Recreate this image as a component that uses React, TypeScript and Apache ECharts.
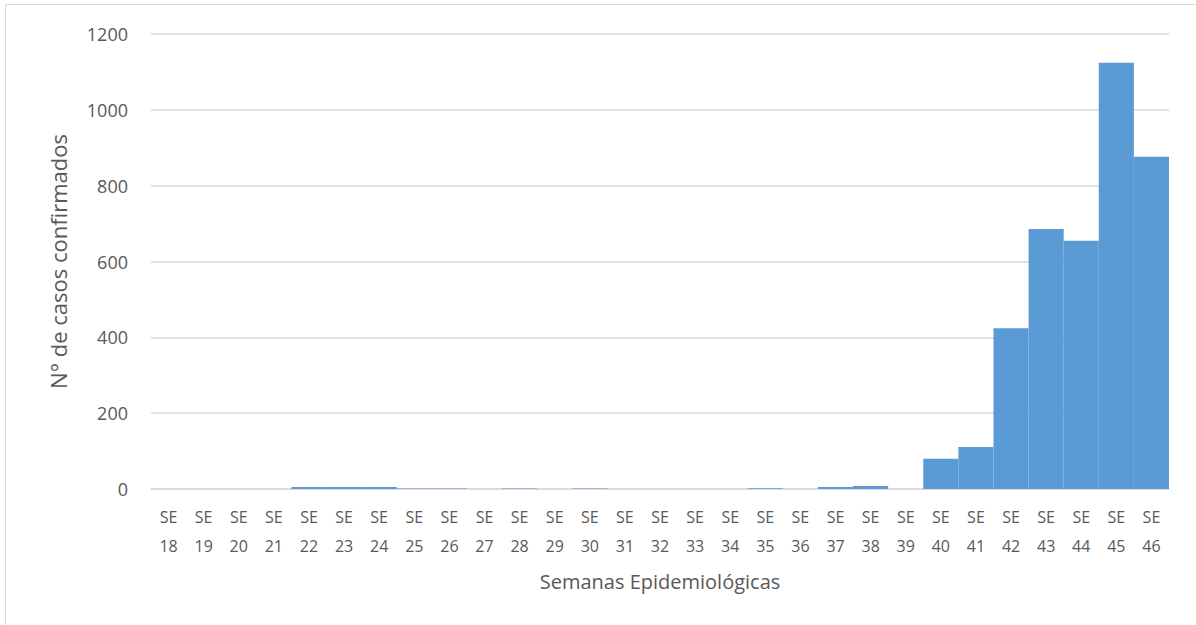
import React, { useEffect, useRef } from "react";
import * as echarts from "echarts";

const weeks = [
  "18", "19", "20", "21", "22", "23", "24", "25", "26", "27", "28", "29", "30", "31", "32",
  "33", "34", "35", "36", "37", "38", "39", "40", "41", "42", "43", "44", "45", "46",
];
const categories = weeks.map((w) => "SE\n" + w);
const cases = [
  0, 0, 0, 0, 5, 5, 5, 1, 1, 0, 1, 0, 1, 0, 0,
  0, 0, 2, 0, 5, 8, 0, 80, 111, 424, 686, 655, 1124, 876,
];
const yTicks = [0, 200, 400, 600, 800, 1000, 1200];

const FONT = "'Open Sans', 'Noto Sans', sans-serif";

export default function App() {
  const ref = useRef<HTMLDivElement>(null);
  useEffect(() => {
    if (!ref.current) return;
    const chart = echarts.init(ref.current, undefined, { renderer: "svg" });
    chart.setOption({
      animation: false,
      backgroundColor: "#ffffff",
      graphic: [
        {
          type: "rect",
          shape: { x: 5.5, y: 4.5, width: 1200, height: 640 },
          style: { fill: "none", stroke: "#d9d9d9", lineWidth: 1 },
          silent: true,
        },
      ],
      grid: { left: 151, right: 27, top: 34, bottom: 136, containLabel: false },
      xAxis: {
        type: "category",
        data: categories,
        name: "Semanas Epidemiológicas",
        nameLocation: "middle",
        nameGap: 82,
        nameTextStyle: { fontFamily: FONT, fontSize: 20, color: "#595959" },
        axisTick: { show: false },
        axisLine: { lineStyle: { color: "#d9d9d9", width: 1.5 } },
        axisLabel: {
          interval: 0,
          fontFamily: FONT,
          fontSize: 16,
          color: "#595959",
          lineHeight: 29,
          margin: 13,
        },
      },
      yAxis: {
        type: "value",
        min: yTicks[0],
        max: yTicks[yTicks.length - 1],
        interval: 200,
        name: "N° de casos confirmados",
        nameLocation: "middle",
        nameGap: 82,
        nameRotate: 90,
        nameTextStyle: { fontFamily: FONT, fontSize: 22, color: "#595959" },
        axisLine: { show: false },
        axisTick: { show: false },
        axisLabel: {
          fontFamily: FONT,
          fontSize: 18,
          color: "#595959",
          margin: 23,
          formatter: (v: number) => String(v),
        },
        splitLine: { lineStyle: { color: "#d9d9d9", width: 1.5 } },
      },
      series: [
        {
          type: "bar",
          data: cases,
          barCategoryGap: "0%",
          itemStyle: { color: "#5b9bd5" },
        },
      ],
    });
    return () => chart.dispose();
  }, []);
  return (
    <div
      ref={ref}
      style={{ position: "fixed", left: 0, top: 0, width: 1196, height: 625 }}
    />
  );
}
